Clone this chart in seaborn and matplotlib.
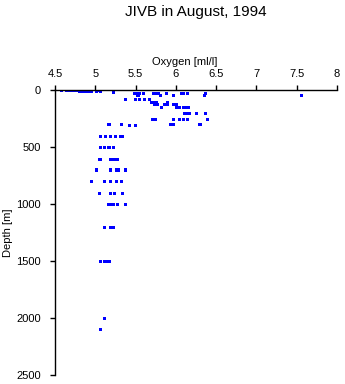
import matplotlib
matplotlib.use("Agg")
import matplotlib.pyplot as plt
import seaborn as sns
import pandas as pd

title = "JIVB in August, 1994"
x_label = "Oxygen [ml/l]"
y_label = "Depth [m]"
x_ticks = [4.5, 5, 5.5, 6, 6.5, 7, 7.5, 8]
x_tick_labels = ["4.5", "5", "5.5", "6", "6.5", "7", "7.5", "8"]
y_ticks = [0, 500, 1000, 1500, 2000, 2500]

# (depth level, oxygen values)
depth_levels = [5, 12, 20, 30, 52, 82, 108, 130, 157, 205, 257, 301, 310,
                410, 506, 606, 702, 804, 906, 1003, 1205, 1503, 2003, 2100]
oxygen_by_level = [
    [4.58, 4.64, 4.67, 4.70, 4.73, 4.76, 4.79, 4.82, 4.85, 4.87, 4.90, 4.93, 5.01, 5.04, 5.07],
    [4.80, 4.84, 4.88, 4.92, 4.95, 5.02, 5.06],
    [5.23],
    [5.49, 5.52, 5.55, 5.60, 5.72, 5.75, 5.78, 5.88, 6.07, 6.10, 6.14, 6.37],
    [5.53, 5.81, 5.97, 6.36, 7.56],
    [5.37, 5.50, 5.55, 5.61, 5.67],
    [5.70, 5.73, 5.76, 5.90],
    [5.73, 5.77, 5.86, 5.89, 5.97, 6.01],
    [5.82, 6.01, 6.05, 6.09, 6.13, 6.16],
    [6.11, 6.14, 6.17, 6.26, 6.37],
    [5.71, 5.75, 5.97, 6.05, 6.10, 6.14, 6.39],
    [5.17, 5.33, 5.93, 5.97, 6.30],
    [5.43, 5.50],
    [5.07, 5.13, 5.19, 5.25, 5.31, 5.34],
    [5.06, 5.11, 5.17, 5.23],
    [5.05, 5.07, 5.19, 5.22, 5.27],
    [5.02, 5.19, 5.26, 5.29, 5.37],
    [4.95, 5.11, 5.19, 5.26, 5.33],
    [5.05, 5.19, 5.24, 5.34],
    [5.17, 5.22, 5.28, 5.37],
    [5.11, 5.19, 5.22],
    [5.07, 5.12, 5.17],
    [5.11],
    [5.07],
]

rows = []
for d, oxs in zip(depth_levels, oxygen_by_level):
    for o in oxs:
        rows.append({"oxygen": o, "depth": d})
df = pd.DataFrame(rows)

sns.set_style("white")
plt.rcParams["font.family"] = ["Liberation Sans", "DejaVu Sans"]
plt.rcParams["text.color"] = "black"
plt.rcParams["axes.labelcolor"] = "black"
plt.rcParams["xtick.color"] = "black"
plt.rcParams["ytick.color"] = "black"

fig = plt.figure(figsize=(3.45, 3.84), dpi=100)
ax = fig.add_axes([55 / 345, 1 - 375 / 384, (337 - 55) / 345, (375 - 90) / 384])

sns.scatterplot(data=df, x="oxygen", y="depth", ax=ax, marker="s", s=5,
                color="#0000ff", edgecolor="none", linewidth=0)

ax.set_xlim(4.5, 8)
ax.set_ylim(2500, 0)
ax.xaxis.tick_top()
ax.xaxis.set_label_position("top")
ax.set_xticks(x_ticks)
ax.set_xticklabels(x_tick_labels)
ax.set_yticks(y_ticks)

narrow = ["Liberation Sans Narrow", "Liberation Sans", "DejaVu Sans"]
ax.set_xlabel(x_label, fontsize=8, family=narrow)
ax.set_ylabel(y_label, fontsize=8, family=narrow)
ax.xaxis.set_label_coords(0.46, 1 + 28 / 285)
ax.xaxis.label.set_va("center")
ax.yaxis.set_label_coords(-47 / 282, 0.5)
ax.yaxis.label.set_va("center")

ax.tick_params(axis="both", labelsize=8, direction="out", length=3.6, width=1,
               color="black", top=True, left=True, bottom=False, right=False)
ax.tick_params(axis="x", pad=4.3)
ax.tick_params(axis="y", pad=6.5)
for side in ["right", "bottom"]:
    ax.spines[side].set_visible(False)
for side in ["top", "left"]:
    ax.spines[side].set_color("black")
    ax.spines[side].set_linewidth(1)

fig.text(196 / 345, 1 - 12 / 384, title, ha="center", va="center", fontsize=11)

fig.savefig("out.png", dpi=100)
